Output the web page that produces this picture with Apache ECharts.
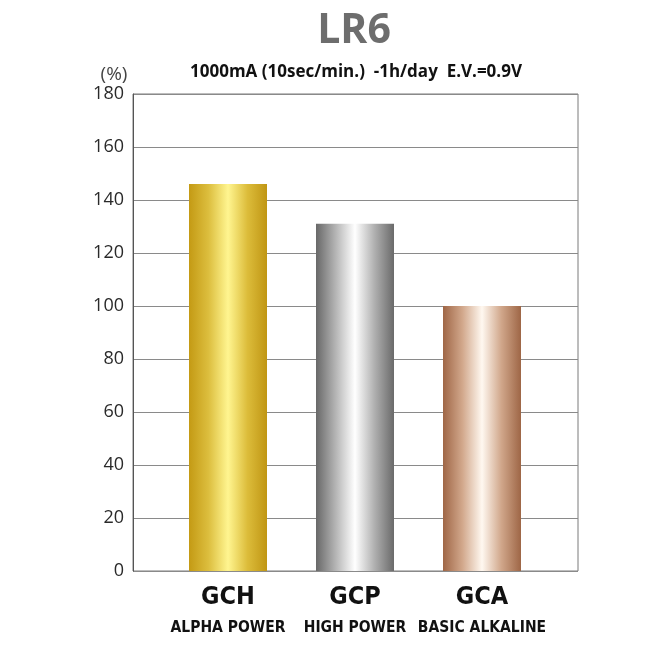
<!DOCTYPE html>
<html>
<head>
<meta charset="utf-8">
<script src="https://cdn.jsdelivr.net/npm/echarts@6/dist/echarts.min.js"></script>
<style>html,body{margin:0;padding:0;background:#fff;}#c{width:650px;height:650px;}</style>
</head>
<body>
<div id="c"></div>
<script>
var titleText = 'LR6';
var subtitleText = '1000mA (10sec/min.)  -1h/day  E.V.=0.9V';
var unitLabel = '(%)';
var categories = ['GCH', 'GCP', 'GCA'];
var categoryNames = ['ALPHA POWER', 'HIGH POWER', 'BASIC ALKALINE'];
var values = [146, 131, 100];
var yTicks = [0, 20, 40, 60, 80, 100, 120, 140, 160, 180];

var gradients = [
  ['#c49a14', '#dcbe3e', '#fff590', '#dcbc3a', '#c09614'],
  ['#686868', '#b4b4b4', '#ffffff', '#b0b0b0', '#6a6a6a'],
  ['#9f6646', '#d2a88c', '#fff8f0', '#d0a68a', '#9e6646']
];
function grad(c) {
  return {type: 'linear', x: 0, y: 0, x2: 1, y2: 0,
    colorStops: [{offset: 0, color: c[0]}, {offset: 0.25, color: c[1]}, {offset: 0.5, color: c[2]}, {offset: 0.75, color: c[3]}, {offset: 1, color: c[4]}]};
}
var condFont = '"DejaVu Sans Condensed", "DejaVu Sans", sans-serif';

var chart = echarts.init(document.getElementById('c'), null, {renderer: 'canvas'});
var yMin = yTicks[0], yMax = yTicks[yTicks.length - 1], yStep = yTicks[1] - yTicks[0];
chart.setOption({
  animation: false,
  backgroundColor: '#ffffff',
  title: [
    {text: titleText, left: 349, top: 6, textAlign: 'center',
     textStyle: {fontFamily: 'Open Sans', fontSize: 41, fontWeight: 'bold', color: '#6d6d6d'}},
    {text: subtitleText, left: 351, top: 59, textAlign: 'center',
     textStyle: {fontFamily: 'Open Sans', fontSize: 17, fontWeight: 'bold', color: '#111'}},
    {text: unitLabel, left: 109, top: 60, textAlign: 'center',
     textStyle: {fontFamily: 'Open Sans', fontSize: 19, fontWeight: 'normal', color: '#444'}}
  ],
  grid: [
    {left: 133, right: 72, top: 94, bottom: 79, show: true, borderColor: '#7a7a7a', borderWidth: 1, backgroundColor: 'transparent'},
    {left: 164.5, right: 104.5, top: 94, bottom: 79}
  ],
  xAxis: [
    {gridIndex: 0, type: 'category', data: [''], show: false},
    {gridIndex: 1, type: 'category', data: categories,
     axisLine: {show: false}, axisTick: {show: false},
     axisLabel: {margin: 8, interval: 0,
       formatter: function (v, i) { return '{a|' + v + '}\n{b|' + categoryNames[i] + '}'; },
       rich: {
         a: {fontFamily: condFont, fontWeight: 'bold', fontSize: 25, color: '#111', lineHeight: 37},
         b: {fontFamily: condFont, fontWeight: 'bold', fontSize: 15.5, color: '#111', lineHeight: 24}
       }}}
  ],
  yAxis: [
    {gridIndex: 0, type: 'value', min: yMin, max: yMax, interval: yStep,
     axisLine: {show: true, lineStyle: {color: '#555', width: 1}},
     axisTick: {show: false},
     splitLine: {show: true, lineStyle: {color: '#8a8a8a', width: 1.2}},
     axisLabel: {margin: 9, fontFamily: 'Open Sans', fontSize: 18, color: '#2a2a2a'}},
    {gridIndex: 1, type: 'value', min: yMin, max: yMax, interval: yStep, show: false,
     splitLine: {show: false}}
  ],
  series: [{
    type: 'bar', xAxisIndex: 1, yAxisIndex: 1, barWidth: 78,
    data: values.map(function (v, i) { return {value: v, itemStyle: {color: grad(gradients[i])}}; })
  }]
});
</script>
</body>
</html>
